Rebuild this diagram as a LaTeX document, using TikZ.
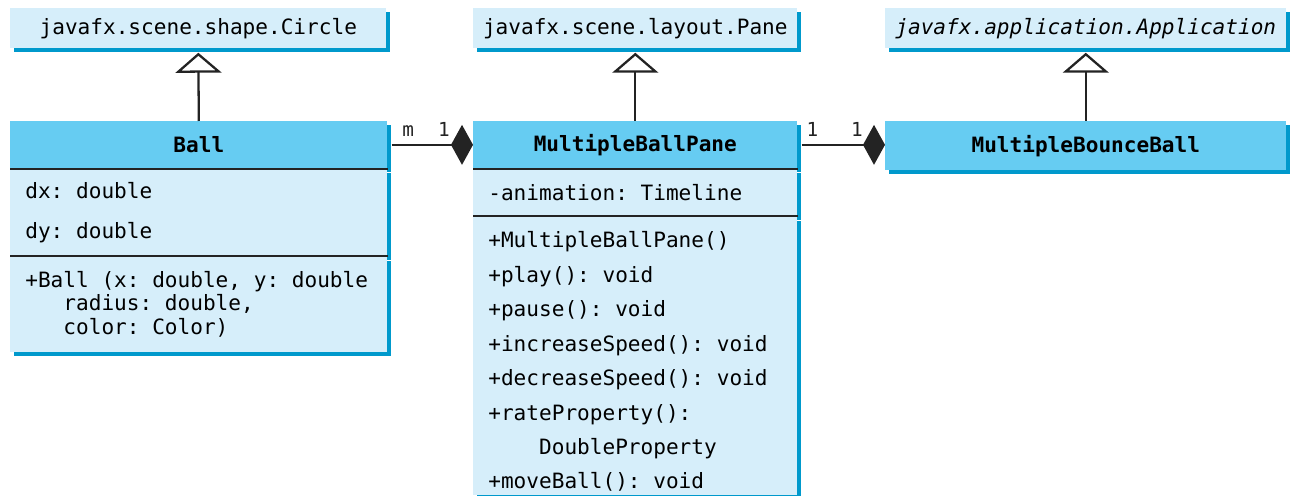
\documentclass[tikz,border=0pt]{standalone}
\usepackage{fontspec}
\setmonofont{DejaVu Sans Mono}
\usetikzlibrary{positioning,shadows,arrows.meta}
\definecolor{headcyan}{RGB}{102,204,242}
\definecolor{bodyblue}{RGB}{214,238,250}
\definecolor{shadowblue}{RGB}{0,153,204}
\definecolor{linegray}{RGB}{35,35,35}
\newcommand{\umlfont}[1]{\ttfamily\fontsize{12}{#1}\selectfont}
\newcommand{\umlindent}[1]{\hspace*{#1\fontcharwd\font`x}}

\begin{document}
\begin{tikzpicture}[x=0.02cm, y=-0.02cm, font=\umlfont{14},
    umlbox/.style={rectangle, anchor=north west, inner sep=0pt, general shadow={fill=shadowblue, shadow xshift=2.3pt, shadow yshift=-2.3pt}},
    superbox/.style={umlbox, fill=bodyblue, minimum height=0.8cm},
    headbox/.style={umlbox, fill=headcyan, font=\umlfont{14}\bfseries},
    compbox/.style={umlbox, fill=bodyblue, align=left, inner xsep=0.3cm,
      execute at begin node={\spaceskip=\fontcharwd\font`x\relax\xspaceskip=\spaceskip}},
    sepline/.style={linegray, line width=1.2pt},
    inherit/.style={-{Triangle[open, length=0.4cm, width=0.92cm, fill=white]}, line width=1.3pt, linegray, shorten >=2.3pt},
    compose/.style={-{Diamond[length=0.44cm, width=0.8cm]}, line width=1.3pt, linegray, shorten <=2.3pt},
    mult/.style={anchor=base, yshift=5pt, inner sep=0pt, font=\ttfamily\fontsize{11}{13}\selectfont}]
  \useasboundingbox (0,0) rectangle (1295,496);

  % super classes
  \node[superbox, minimum width=7.52cm] (circle) at (10,8) {javafx.scene.shape.Circle};
  \node[superbox, minimum width=6.48cm] (pane) at (473,8) {javafx.scene.layout.Pane};
  \node[superbox, minimum width=8.02cm] (application) at (885,8) {\itshape javafx.application.Application};

  % Ball
  \node[headbox, minimum width=7.54cm, minimum height=0.94cm] (ballhead) at (10,121) {Ball};
  \node[compbox, text width=6.94cm, minimum height=1.74cm, font=\umlfont{23.2}] (ballattr) at (ballhead.south west) {dx: double\\dy: double};
  \node[compbox, text width=6.94cm, minimum height=1.9cm, font=\umlfont{13.3}] (ballops) at (ballattr.south west) {+Ball (x: double, y: double\\\umlindent{3}radius: double,\\\umlindent{3}color: Color)};

  % MultipleBallPane
  \node[headbox, minimum width=6.48cm, minimum height=0.94cm] (panehead) at (473,121) {MultipleBallPane};
  \node[compbox, text width=5.88cm, minimum height=0.94cm] (paneattr) at (panehead.south west) {-animation: Timeline};
  \node[compbox, text width=5.88cm, minimum height=5.56cm, font=\umlfont{19.6}] (paneops) at (paneattr.south west) {\rule{0pt}{16pt}+MultipleBallPane()\\+play(): void\\+pause(): void\\+increaseSpeed(): void\\+decreaseSpeed(): void\\+rateProperty():\\\umlindent{4}DoubleProperty\\+moveBall(): void};

  % MultipleBounceBall
  \node[headbox, minimum width=8.02cm, minimum height=0.98cm] (bouncehead) at (885,121) {MultipleBounceBall};

  \draw[sepline] (ballattr.north west) -- (ballattr.north east);
  \draw[sepline] (ballops.north west) -- (ballops.north east);
  \draw[sepline] (paneattr.north west) -- (paneattr.north east);
  \draw[sepline] (paneops.north west) -- (paneops.north east);

  \draw[inherit] (ballhead.north) -- (circle.south);
  \draw[inherit] (panehead.north) -- (pane.south);
  \draw[inherit] (bouncehead.north) -- (application.south);

  \draw[compose] (ballhead.east) -- node[mult, pos=0.24] (mball) {m} node[mult, pos=0.66] (oneball) {1} (panehead.west);
  \draw[compose] (panehead.east) -- node[mult, pos=0.17] (onepane) {1} node[mult, pos=0.68] (onebounce) {1} (panehead.east -| bouncehead.west);
\end{tikzpicture}
\end{document}
